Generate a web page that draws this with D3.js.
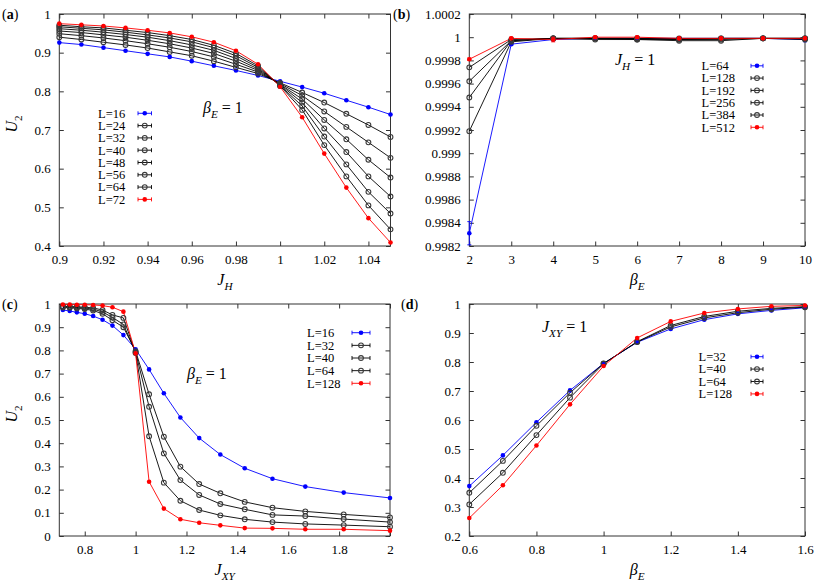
<!DOCTYPE html>
<html>
<head>
<meta charset="utf-8">
<script src="https://cdn.jsdelivr.net/npm/d3@7"></script>
<style>
  body { margin: 0; background: #fff; }
  svg { display: block; }
  svg text { font-family: "Liberation Serif", "Times New Roman", Tinos, "DejaVu Serif", "Noto Serif", serif; fill: #000; }
</style>
</head>
<body>
<svg id="chart"></svg>
<script>
var WIDTH = 830, HEIGHT = 581;

//////////// Data

// (a) U2 vs J_H, beta_E = 1
var aX = [0.9, 0.91, 0.92, 0.93, 0.94, 0.95, 0.96, 0.97, 0.98, 0.99, 1.0, 1.01, 1.02, 1.03, 1.04, 1.05];
var aL16 = [0.926, 0.921, 0.913, 0.905, 0.897, 0.889, 0.878, 0.866, 0.854, 0.841, 0.826, 0.811, 0.795, 0.777, 0.759, 0.740];
var aL24 = [0.940, 0.934, 0.927, 0.920, 0.912, 0.902, 0.892, 0.878, 0.862, 0.846, 0.822, 0.797, 0.771, 0.742, 0.713, 0.682];
var aL32 = [0.949, 0.944, 0.938, 0.931, 0.923, 0.914, 0.903, 0.889, 0.870, 0.850, 0.820, 0.789, 0.748, 0.708, 0.668, 0.628];
var aL40 = [0.956, 0.952, 0.946, 0.940, 0.932, 0.923, 0.912, 0.898, 0.878, 0.854, 0.818, 0.780, 0.726, 0.676, 0.623, 0.577];
var aL48 = [0.962, 0.958, 0.953, 0.947, 0.940, 0.931, 0.920, 0.906, 0.885, 0.858, 0.817, 0.771, 0.704, 0.643, 0.580, 0.528];
var aL56 = [0.967, 0.963, 0.959, 0.953, 0.946, 0.938, 0.928, 0.913, 0.892, 0.862, 0.815, 0.762, 0.683, 0.611, 0.540, 0.484];
var aL64 = [0.971, 0.967, 0.964, 0.958, 0.952, 0.944, 0.934, 0.919, 0.898, 0.866, 0.814, 0.752, 0.661, 0.580, 0.505, 0.443];
var aL72 = [0.975, 0.972, 0.969, 0.964, 0.958, 0.951, 0.941, 0.927, 0.905, 0.870, 0.812, 0.733, 0.639, 0.551, 0.472, 0.409];
var aXTicks = [0.9, 0.92, 0.94, 0.96, 0.98, 1, 1.02, 1.04];
var aYTicks = [0.4, 0.5, 0.6, 0.7, 0.8, 0.9, 1];

// (b) U2 vs beta_E, J_H = 1
var bX = [2, 3, 4, 5, 6, 7, 8, 9, 10];
var bL64 = [0.99831, 0.99994, 0.99998, 0.99999, 0.99999, 0.99999, 0.99999, 0.99999, 0.99998];
var bL128 = [0.99919, 0.99996, 0.99999, 0.99999, 0.99998, 0.99998, 0.99998, 0.99999, 0.99999];
var bL192 = [0.99948, 0.99997, 0.99999, 0.99999, 0.99999, 0.99998, 0.99999, 0.99999, 0.99998];
var bL256 = [0.99962, 0.99997, 0.99999, 0.99998, 0.99998, 0.99997, 0.99997, 0.99999, 0.99999];
var bL384 = [0.99974, 0.99998, 0.99999, 0.99999, 0.99999, 0.99999, 0.99999, 0.99999, 0.99999];
var bL512 = [0.99981, 0.99999, 0.99998, 1.0, 1.0, 0.99999, 0.99999, 0.99999, 0.99999];
var bErr64 = [0.0001, 0.00001, 0.00001, 0.00001, 0.00001, 0.00001, 0.00001, 0.00001, 0.00002];
var bErr512 = [0.00001, 0.00001, 0.00002, 0.00001, 0.00001, 0.00001, 0.00001, 0.00001, 0.00001];
var bXTicks = [2, 3, 4, 5, 6, 7, 8, 9, 10];
var bYTicks = [0.9982, 0.9984, 0.9986, 0.9988, 0.999, 0.9992, 0.9994, 0.9996, 0.9998, 1, 1.0002];
var bYLabels = ["0.9982", "0.9984", "0.9986", "0.9988", "0.999", "0.9992", "0.9994", "0.9996", "0.9998", "1", "1.0002"];

// (c) U2 vs J_XY, beta_E = 1
var cX = [0.714, 0.741, 0.769, 0.8, 0.833, 0.87, 0.909, 0.952, 1.0, 1.053, 1.111, 1.176, 1.25, 1.333, 1.429, 1.538, 1.667, 1.818, 2.0];
var cL16 = [0.974, 0.970, 0.964, 0.958, 0.948, 0.932, 0.907, 0.866, 0.805, 0.718, 0.615, 0.511, 0.422, 0.351, 0.292, 0.247, 0.213, 0.187, 0.164];
var cL32 = [0.985, 0.984, 0.981, 0.978, 0.972, 0.958, 0.930, 0.900, 0.797, 0.611, 0.428, 0.299, 0.224, 0.184, 0.147, 0.122, 0.106, 0.093, 0.080];
var cL40 = [0.988, 0.987, 0.985, 0.982, 0.978, 0.966, 0.942, 0.912, 0.792, 0.557, 0.356, 0.241, 0.177, 0.138, 0.115, 0.091, 0.086, 0.073, 0.060];
var cL64 = [0.990, 0.989, 0.988, 0.986, 0.983, 0.974, 0.953, 0.940, 0.789, 0.430, 0.230, 0.152, 0.112, 0.089, 0.072, 0.060, 0.052, 0.047, 0.040];
var cL128 = [0.998, 0.998, 0.997, 0.997, 0.996, 0.993, 0.986, 0.967, 0.787, 0.234, 0.118, 0.072, 0.057, 0.046, 0.034, 0.033, 0.029, 0.029, 0.023];
var cXTicks = [0.8, 1, 1.2, 1.4, 1.6, 1.8, 2];
var cYTicks = [0, 0.1, 0.2, 0.3, 0.4, 0.5, 0.6, 0.7, 0.8, 0.9, 1];

// (d) U2 vs beta_E, J_XY = 1
var dX = [0.6, 0.7, 0.8, 0.9, 1.0, 1.1, 1.2, 1.3, 1.4, 1.5, 1.6];
var dL32 = [0.372, 0.478, 0.592, 0.702, 0.795, 0.868, 0.914, 0.946, 0.966, 0.978, 0.987];
var dL40 = [0.349, 0.459, 0.580, 0.694, 0.795, 0.869, 0.921, 0.952, 0.970, 0.982, 0.989];
var dL64 = [0.309, 0.418, 0.548, 0.677, 0.794, 0.870, 0.926, 0.957, 0.975, 0.985, 0.991];
var dL128 = [0.262, 0.375, 0.512, 0.654, 0.786, 0.883, 0.940, 0.969, 0.983, 0.992, 0.995];
var dXTicks = [0.6, 0.8, 1, 1.2, 1.4, 1.6];
var dYTicks = [0.2, 0.3, 0.4, 0.5, 0.6, 0.7, 0.8, 0.9, 1];

//////////// Styles

var BLUE = "#0000ff", RED = "#ff0000", BLACK = "#000000", RING = "#3a3a3a";
var TICK = 4.5, FONT_SIZE = 13, LEGEND_SIZE = 12.5;
var SERIF = "\"Liberation Serif\", \"Times New Roman\", Tinos, \"DejaVu Serif\", \"Noto Serif\", serif";

var svg = d3.select("#chart")
	.attr("width", WIDTH)
	.attr("height", HEIGHT)
	.attr("font-family", SERIF);

// Text with italic symbols and subscripts: parts = [[text, style]], style "i" italic, "s" subscript
function mathText(g, x, y, parts, size, anchor) {
	var t = g.append("text")
		.attr("x", x)
		.attr("y", y)
		.attr("font-size", size)
		.attr("text-anchor", anchor || "start");
	var shift = 0;
	parts.forEach(function(p) {
		var sub = p[1].indexOf("s") >= 0;
		var target = sub ? size * 0.3 : 0;
		var ts = t.append("tspan").text(p[0]).attr("dy", target - shift);
		shift = target;
		if (p[1].indexOf("i") >= 0) ts.attr("font-style", "italic");
		if (sub) ts.attr("font-size", size * 0.7);
	});
	return t;
}

function series(label, xs, ys, color, errs) {
	return {label: label, x: xs, y: ys, color: color, err: errs || null};
}

function drawMarker(g, cx, cy, color) {
	if (color === BLACK) {
		g.append("circle").attr("cx", cx).attr("cy", cy).attr("r", 2.4)
			.attr("fill", "none").attr("stroke", RING).attr("stroke-width", 1.1);
	} else {
		g.append("circle").attr("cx", cx).attr("cy", cy).attr("r", 2.3)
			.attr("fill", color);
	}
}

function drawPanel(p) {
	var g = svg.append("g");
	var x = d3.scaleLinear().domain(p.xDomain).range([p.left, p.right]);
	var y = d3.scaleLinear().domain(p.yDomain).range([p.bottom, p.top]);

	// Axes, ticks pointing inward on all four sides
	var fmt = p.yLabels ? function(d, i) { return p.yLabels[i]; } : d3.format("");
	var bottomAx = g.append("g").attr("transform", "translate(0," + p.bottom + ")")
		.call(d3.axisBottom(x).tickValues(p.xTicks).tickSize(-TICK).tickPadding(9).tickFormat(d3.format("")));
	var leftAx = g.append("g").attr("transform", "translate(" + p.left + ",0)")
		.call(d3.axisLeft(y).tickValues(p.yTicks).tickSize(-TICK).tickPadding(8.5).tickFormat(fmt));
	var topAx = g.append("g").attr("transform", "translate(0," + p.top + ")")
		.call(d3.axisTop(x).tickValues(p.xTicks).tickSize(-TICK).tickFormat(""));
	var rightAx = g.append("g").attr("transform", "translate(" + p.right + ",0)")
		.call(d3.axisRight(y).tickValues(p.yTicks).tickSize(-TICK).tickFormat(""));
	[bottomAx, leftAx, topAx, rightAx].forEach(function(a) {
		a.attr("font-family", SERIF).attr("font-size", FONT_SIZE);
		a.select(".domain").remove();
		a.selectAll("line").attr("stroke", "#333");
		a.selectAll("text").attr("font-size", FONT_SIZE);
	});

	g.append("rect")
		.attr("x", p.left).attr("y", p.top)
		.attr("width", p.right - p.left).attr("height", p.bottom - p.top)
		.attr("fill", "none").attr("stroke", "#333").attr("stroke-width", 1);

	// Lines, then error bars and markers
	var line = d3.line()
		.x(function(d) { return x(d[0]); })
		.y(function(d) { return y(d[1]); });

	p.series.forEach(function(s) {
		var pts = s.x.map(function(v, i) { return [v, s.y[i]]; });
		g.append("path").datum(pts)
			.attr("d", line)
			.attr("fill", "none")
			.attr("stroke", s.color)
			.attr("stroke-width", 0.9);
	});
	p.series.forEach(function(s) {
		s.x.forEach(function(v, i) {
			if (s.err) {
				var y0 = Math.min(y(s.y[i] - s.err[i]), p.bottom), y1 = y(s.y[i] + s.err[i]);
				g.append("line").attr("x1", x(v)).attr("x2", x(v)).attr("y1", y0).attr("y2", y1)
					.attr("stroke", s.color).attr("stroke-width", 0.9);
				[y0, y1].forEach(function(yy) {
					g.append("line").attr("x1", x(v) - 2).attr("x2", x(v) + 2).attr("y1", yy).attr("y2", yy)
						.attr("stroke", s.color).attr("stroke-width", 0.9);
				});
			}
			drawMarker(g, x(v), y(s.y[i]), s.color);
		});
	});

	// Legend: label, then a short error-bar sample
	p.series.forEach(function(s, i) {
		var ly = p.legend.y + i * p.legend.dy;
		g.append("text")
			.attr("x", p.legend.x)
			.attr("y", ly + 4.3)
			.attr("font-size", LEGEND_SIZE)
			.text(s.label);
		var x0 = p.legend.sx, x1 = p.legend.sx + p.legend.sw, xm = (x0 + x1) / 2;
		g.append("line").attr("x1", x0).attr("x2", x1).attr("y1", ly).attr("y2", ly)
			.attr("stroke", s.color).attr("stroke-width", 0.9);
		[x0, x1].forEach(function(xx) {
			g.append("line").attr("x1", xx).attr("x2", xx).attr("y1", ly - 2).attr("y2", ly + 2)
				.attr("stroke", s.color).attr("stroke-width", 0.9);
		});
		drawMarker(g, xm, ly, s.color);
	});

	// Panel tag, axis titles and annotation
	var tag = g.append("text")
		.attr("x", p.tag[0]).attr("y", p.tag[1])
		.attr("font-size", 14);
	tag.append("tspan").text("(");
	tag.append("tspan").attr("font-weight", "bold").text(p.tag[2]);
	tag.append("tspan").text(")");

	mathText(g, (p.left + p.right) / 2, p.bottom + 39, p.xTitle, 16, "middle");
	if (p.yTitle) {
		var yt = mathText(g, 0, 0, p.yTitle, 16, "middle");
		yt.attr("transform", "translate(17," + ((p.top + p.bottom) / 2 - 6) + ") rotate(-90)");
	}
	mathText(g, p.note[0], p.note[1], p.note[2], 16, "start");
}

var U2 = [["U", "i"], ["2", "s"]];

drawPanel({
	left: 59.3, right: 390.5, top: 14, bottom: 246,
	xDomain: [0.9, 1.05], yDomain: [0.4, 1],
	xTicks: aXTicks, yTicks: aYTicks,
	series: [
		series("L=16", aX, aL16, BLUE),
		series("L=24", aX, aL24, BLACK),
		series("L=32", aX, aL32, BLACK),
		series("L=40", aX, aL40, BLACK),
		series("L=48", aX, aL48, BLACK),
		series("L=56", aX, aL56, BLACK),
		series("L=64", aX, aL64, BLACK),
		series("L=72", aX, aL72, RED)
	],
	legend: {x: 98, y: 113.3, dy: 12.3, sx: 138, sw: 13.5},
	tag: [2, 19, "a"],
	xTitle: [["J", "i"], ["H", "is"]],
	yTitle: U2,
	note: [203, 113, [["β", "i"], ["E", "is"], [" = 1", ""]]]
});

drawPanel({
	left: 469.3, right: 805, top: 14, bottom: 246,
	xDomain: [2, 10], yDomain: [0.9982, 1.0002],
	xTicks: bXTicks, yTicks: bYTicks, yLabels: bYLabels,
	series: [
		series("L=64", bX, bL64, BLUE, bErr64),
		series("L=128", bX, bL128, BLACK),
		series("L=192", bX, bL192, BLACK),
		series("L=256", bX, bL256, BLACK),
		series("L=384", bX, bL384, BLACK),
		series("L=512", bX, bL512, RED, bErr512)
	],
	legend: {x: 701.5, y: 65.8, dy: 12.3, sx: 751, sw: 12},
	tag: [393, 19, "b"],
	xTitle: [["β", "i"], ["E", "is"]],
	yTitle: null,
	note: [615, 65, [["J", "i"], ["H", "is"], [" = 1", ""]]]
});

drawPanel({
	left: 59.3, right: 390, top: 304, bottom: 536,
	xDomain: [0.7, 2], yDomain: [0, 1],
	xTicks: cXTicks, yTicks: cYTicks,
	series: [
		series("L=16", cX, cL16, BLUE),
		series("L=32", cX, cL32, BLACK),
		series("L=40", cX, cL40, BLACK),
		series("L=64", cX, cL64, BLACK),
		series("L=128", cX, cL128, RED)
	],
	legend: {x: 307, y: 332.7, dy: 12.65, sx: 352, sw: 18},
	tag: [2, 309, "c"],
	xTitle: [["J", "i"], ["XY", "is"]],
	yTitle: U2,
	note: [187, 379, [["β", "i"], ["E", "is"], [" = 1", ""]]]
});

drawPanel({
	left: 469.3, right: 805, top: 304, bottom: 536,
	xDomain: [0.6, 1.6], yDomain: [0.2, 1],
	xTicks: dXTicks, yTicks: dYTicks,
	series: [
		series("L=32", dX, dL32, BLUE),
		series("L=40", dX, dL40, BLACK),
		series("L=64", dX, dL64, BLACK),
		series("L=128", dX, dL128, RED)
	],
	legend: {x: 698.5, y: 356.7, dy: 12.4, sx: 751, sw: 12},
	tag: [401, 309, "d"],
	xTitle: [["β", "i"], ["E", "is"]],
	yTitle: null,
	note: [542, 332, [["J", "i"], ["XY", "is"], [" = 1", ""]]]
});
</script>
</body>
</html>
